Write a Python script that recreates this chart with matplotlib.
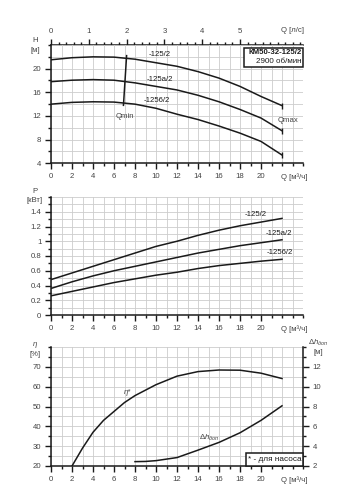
import numpy as np
import matplotlib
matplotlib.use('Agg')
import matplotlib.pyplot as plt
from matplotlib.ticker import MultipleLocator
from matplotlib.patches import Rectangle

plt.rcParams['font.family'] = ['Liberation Sans', 'DejaVu Sans']
plt.rcParams['mathtext.fontset'] = 'custom'
plt.rcParams['mathtext.rm'] = 'Liberation Sans'
plt.rcParams['mathtext.it'] = 'Liberation Sans:italic'

# --- data ---
q_h = [0, 2, 4, 6, 8, 10, 12, 14, 16, 18, 20, 22]
h_125 = [21.5, 21.85, 22.0, 21.95, 21.6, 21.0, 20.4, 19.5, 18.4, 17.0, 15.3, 13.75]
h_125a = [17.8, 18.05, 18.15, 18.05, 17.6, 17.0, 16.4, 15.5, 14.4, 13.1, 11.65, 9.5]
h_1256 = [14.0, 14.3, 14.4, 14.35, 14.0, 13.3, 12.3, 11.4, 10.3, 9.1, 7.7, 5.4]
qmin_q = [7.2, 6.9]
qmin_h = [22.2, 13.8]

p_125 = [0.48, 0.57, 0.66, 0.75, 0.84, 0.93, 1.0, 1.08, 1.15, 1.21, 1.26, 1.31]
p_125a = [0.36, 0.45, 0.53, 0.60, 0.66, 0.72, 0.78, 0.84, 0.89, 0.94, 0.98, 1.02]
p_1256 = [0.26, 0.32, 0.38, 0.44, 0.49, 0.54, 0.58, 0.63, 0.67, 0.70, 0.73, 0.755]
labels = ['-125/2', '-125a/2', '-1256/2']

q_eta = [2, 3, 4, 5, 6, 7, 8, 10, 12, 14, 16, 18, 20, 22]
eta = [20, 29, 37, 43, 47.5, 52, 55.5, 61, 65.3, 67.6, 68.4, 68.3, 66.8, 64.1]
q_npsh = [8, 9, 10, 12, 14, 16, 18, 20, 22]
npsh = [2.44, 2.46, 2.54, 2.85, 3.6, 4.38, 5.35, 6.6, 8.07]

W, H = 354, 500
LC = '#1a1a1a'
TC = '#444444'
GC = '#cccccc'
FS = 5.6

fig = plt.figure(figsize=(W / 100, H / 100), dpi=100)


def fx(x):
    return x / W


def fy(y):
    return 1 - y / H


def style(ax, ymaj, ymin, ylo, yhi):
    ax.set_xlim(0, 24)
    ax.set_ylim(ylo, yhi)
    ax.xaxis.set_major_locator(MultipleLocator(2))
    ax.xaxis.set_minor_locator(MultipleLocator(1))
    ax.yaxis.set_major_locator(MultipleLocator(ymaj))
    ax.yaxis.set_minor_locator(MultipleLocator(ymin))
    ax.grid(True, which='both', color=GC, lw=0.6)
    ax.set_axisbelow(True)
    for s in ['top', 'right']:
        ax.spines[s].set_visible(False)
    for s in ['left', 'bottom']:
        ax.spines[s].set_linewidth(1.1)
        ax.spines[s].set_color(LC)
    ax.tick_params(which='major', length=4, width=1, color=LC, labelsize=FS,
                   labelcolor=TC, pad=3)
    ax.tick_params(which='minor', length=2.5, width=1, color=LC)
    xt = list(range(0, 21, 2))
    ax.set_xticks(xt)
    ax.set_xticklabels([str(t) for t in xt])


# --- H(Q) ---
ax1 = fig.add_axes([fx(51), fy(163.3), 252 / W, 118.3 / H])
style(ax1, 4, 2, 4, 24)
ax1.set_yticks([4, 8, 12, 16, 20])
for hv in [h_125, h_125a, h_1256]:
    ax1.plot(q_h, hv, color=LC, lw=1.1)
    ax1.plot(q_h[-1], hv[-1], marker='|', ms=5, mew=1, color=LC)
ax1.plot(qmin_q, qmin_h, color=LC, lw=1.1)

sec = ax1.secondary_xaxis('top', functions=(lambda q: q / 3.6, lambda l: l * 3.6))
sec.xaxis.set_major_locator(MultipleLocator(1))
sec.xaxis.set_minor_locator(MultipleLocator(0.2))
sec.set_xticks([0, 1, 2, 3, 4, 5])
sec.spines['top'].set_linewidth(1.1)
sec.spines['top'].set_color(LC)
sec.tick_params(which='major', length=4, width=1, color=LC, labelsize=FS,
                labelcolor=TC, pad=3)
sec.tick_params(which='minor', length=2.5, width=1, color=LC)

fig.text(fx(35), fy(40.5), 'H', fontsize=FS, color=TC, ha='center', va='center')
fig.text(fx(35), fy(50), '[м]', fontsize=FS, color=TC, ha='center', va='center')
fig.text(fx(281), fy(30), 'Q [л/с]', fontsize=FS, color=TC, ha='left', va='center')
fig.text(fx(281), fy(177.5), 'Q [м³/ч]', fontsize=FS, color=TC, ha='left', va='center')
for lab, (x, y) in zip(labels, [(160, 55), (160, 79.3), (157, 101)]):
    fig.text(fx(x), fy(y), lab, fontsize=FS, color=LC, ha='center', va='center')
fig.text(fx(125), fy(116.5), 'Qmin', fontsize=FS, color=TC, ha='center', va='center')
fig.text(fx(288), fy(120), 'Qmax', fontsize=FS, color=TC, ha='center', va='center')
fig.patches.append(Rectangle((fx(244), fy(66.7)), 59 / W, 19 / H, transform=fig.transFigure,
                             fill=True, facecolor='white', edgecolor=LC, lw=1.1, zorder=5))
fig.text(fx(301.5), fy(52.3), 'КМ50-32-125/2', fontsize=5.6, weight='bold', color=LC,
         ha='right', va='center', zorder=6)
fig.text(fx(301.5), fy(61.8), '2900 об/мин', fontsize=5.8, color=LC,
         ha='right', va='center', zorder=6)

# --- P(Q) ---
ax2 = fig.add_axes([fx(51), fy(315), 252 / W, 118 / H])
style(ax2, 0.2, 0.1, 0, 1.6)
ax2.set_yticks([0, 0.2, 0.4, 0.6, 0.8, 1.0, 1.2, 1.4])
ax2.set_yticklabels(['0', '0.2', '0.4', '0.6', '0.8', '1', '1.2', '1.4'])
for pv in [p_125, p_125a, p_1256]:
    ax2.plot(q_h, pv, color=LC, lw=1.1)
fig.text(fx(35), fy(191.5), 'P', fontsize=FS, color=TC, ha='center', va='center')
fig.text(fx(35), fy(200), '[кВт]', fontsize=FS, color=TC, ha='center', va='center')
fig.text(fx(281), fy(329), 'Q [м³/ч]', fontsize=FS, color=TC, ha='left', va='center')
for lab, (x, y) in zip(labels, [(256, 215), (278.5, 233.3), (280, 252.7)]):
    fig.text(fx(x), fy(y), lab, fontsize=FS, color=LC, ha='center', va='center')

# --- eta / NPSH ---
ax3 = fig.add_axes([fx(51), fy(466), 252 / W, 119 / H])
style(ax3, 10, 5, 20, 80)
ax3.set_yticks([20, 30, 40, 50, 60, 70])
ax3.plot(q_eta, eta, color=LC, lw=1.1)
ax4 = ax3.twinx()
ax4.set_ylim(2, 14)
ax4.set_yticks([2, 4, 6, 8, 10, 12])
ax4.yaxis.set_minor_locator(MultipleLocator(1))
for s in ['top', 'left', 'bottom']:
    ax4.spines[s].set_visible(False)
ax4.spines['right'].set_linewidth(1.1)
ax4.spines['right'].set_color(LC)
ax4.tick_params(which='major', length=4, width=1, color=LC, labelsize=FS,
                labelcolor=TC, pad=3)
ax4.tick_params(which='minor', length=2.5, width=1, color=LC)
ax4.plot(q_npsh, npsh, color=LC, lw=1.1)

fig.text(fx(35), fy(345), 'η', fontsize=FS, color=TC, ha='center', va='center', style='italic')
fig.text(fx(35), fy(354.5), '[%]', fontsize=FS, color=TC, ha='center', va='center')
fig.text(fx(318), fy(343), r'$\Delta h_{доп}$', fontsize=FS, color=TC, ha='center', va='center')
fig.text(fx(318), fy(352), '[м]', fontsize=FS, color=TC, ha='center', va='center')
fig.text(fx(281), fy(480.5), 'Q [м³/ч]', fontsize=FS, color=TC, ha='left', va='center')
fig.text(fx(128), fy(392), 'η*', fontsize=FS, color=TC, ha='center', va='center', style='italic')
fig.text(fx(209), fy(437.5), r'$\Delta h_{доп}$', fontsize=FS, color=TC, ha='center', va='center')
fig.patches.append(Rectangle((fx(246), fy(466)), 57 / W, 13 / H, transform=fig.transFigure,
                             fill=True, facecolor='white', edgecolor=LC, lw=1.1, zorder=5))
fig.text(fx(274.5), fy(459.5), '* - для насоса', fontsize=5.9, color=LC,
         ha='center', va='center', zorder=6)

fig.savefig('out.png', dpi=100)
